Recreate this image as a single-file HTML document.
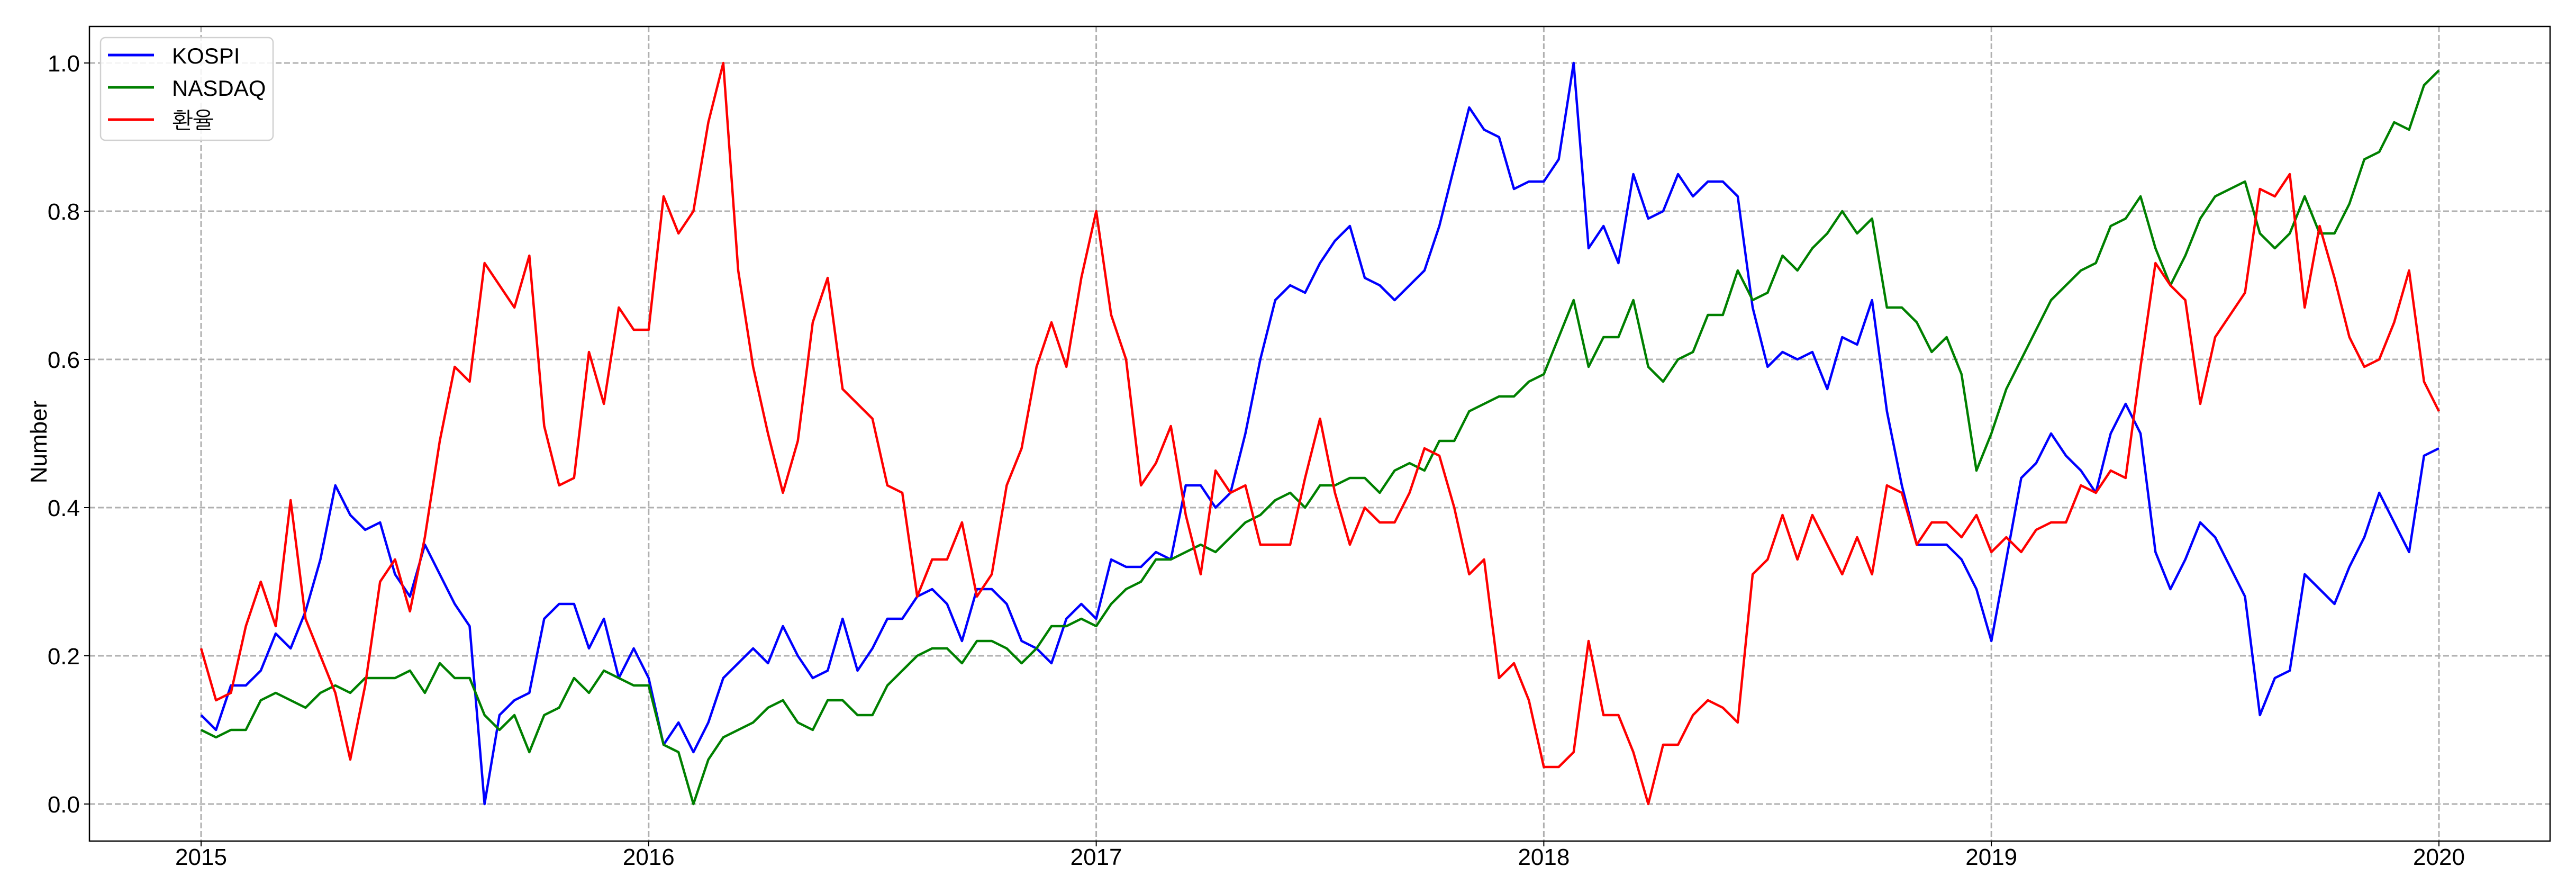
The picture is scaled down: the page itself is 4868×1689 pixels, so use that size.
<!DOCTYPE html>
<html><head><meta charset="utf-8"><style>
html,body{margin:0;padding:0;background:#fff}
svg{display:block}
text{font-family:"Liberation Sans","NanumGothic","Noto Sans CJK KR",sans-serif;fill:#000}
</style></head><body>
<svg id="chart" width="4868" height="1689" viewBox="0 0 4868 1689" xmlns="http://www.w3.org/2000/svg">
<g id="grid"></g>
<g id="series"></g>
<rect x="169" y="50" width="4650" height="1539" fill="none" stroke="#000" stroke-width="2.5"/>
<g id="axes"></g>
<text transform="translate(88,835) rotate(-90)" text-anchor="middle" font-size="44">Number</text>
<g>
<rect x="190" y="71" width="326" height="194" rx="9" fill="#fff" fill-opacity="0.85" stroke="#d0d0d0" stroke-width="2.5"/>
<line x1="204" y1="104" x2="291" y2="104" stroke="#0000ff" stroke-width="5"/>
<text x="325" y="120" font-size="42">KOSPI</text>
<line x1="204" y1="165" x2="291" y2="165" stroke="#008000" stroke-width="5"/>
<text x="325" y="181" font-size="42">NASDAQ</text>
<line x1="204" y1="226" x2="291" y2="226" stroke="#ff0000" stroke-width="5"/>
<text x="325" y="242" font-size="42">환율</text>
</g>
</svg>
<script>
const startYear = 2015;
const stepYears = 1/30;
const xTicks = [2015, 2016, 2017, 2018, 2019, 2020];
const xTickLabels = ["2015", "2016", "2017", "2018", "2019", "2020"];
const yTicks = [0, 0.2, 0.4, 0.6, 0.8, 1.0];
const yTickLabels = ["0.0", "0.2", "0.4", "0.6", "0.8", "1.0"];
const kospi = [0.12,0.10,0.16,0.16,0.18,0.23,0.21,0.26,0.33,0.43,0.39,0.37,0.38,0.31,0.28,0.35,0.31,0.27,0.24,0.00,0.12,0.14,0.15,0.25,0.27,0.27,0.21,0.25,0.17,0.21,0.17,0.08,0.11,0.07,0.11,0.17,0.19,0.21,0.19,
0.24,0.20,0.17,0.18,0.25,0.18,0.21,0.25,0.25,0.28,0.29,0.27,0.22,0.29,0.29,0.27,0.22,0.21,0.19,0.25,0.27,0.25,0.33,0.32,0.32,0.34,0.33,0.43,0.43,0.40,0.42,0.50,0.60,0.68,0.70,0.69,0.73,
0.76,0.78,0.71,0.70,0.68,0.70,0.72,0.78,0.86,0.94,0.91,0.90,0.83,0.84,0.84,0.87,1.00,0.75,0.78,0.73,0.85,0.79,0.80,0.85,0.82,0.84,0.84,0.82,0.67,0.59,0.61,0.60,0.61,0.56,0.63,0.62,0.68,0.53,
0.43,0.35,0.35,0.35,0.33,0.29,0.22,0.33,0.44,0.46,0.50,0.47,0.45,0.42,0.50,0.54,0.50,0.34,0.29,0.33,0.38,0.36,0.32,0.28,0.12,0.17,0.18,0.31,0.29,0.27,0.32,0.36,0.42,0.38,0.34,0.47,0.48];
const nasdaq = [0.10,0.09,0.10,0.10,0.14,0.15,0.14,0.13,0.15,0.16,0.15,0.17,0.17,0.17,0.18,0.15,0.19,0.17,0.17,0.12,0.10,0.12,0.07,0.12,0.13,0.17,0.15,0.18,0.17,0.16,0.16,0.08,0.07,0.00,0.06,0.09,0.10,0.11,0.13,
0.14,0.11,0.10,0.14,0.14,0.12,0.12,0.16,0.18,0.20,0.21,0.21,0.19,0.22,0.22,0.21,0.19,0.21,0.24,0.24,0.25,0.24,0.27,0.29,0.30,0.33,0.33,0.34,0.35,0.34,0.36,0.38,0.39,0.41,0.42,0.40,0.43,
0.43,0.44,0.44,0.42,0.45,0.46,0.45,0.49,0.49,0.53,0.54,0.55,0.55,0.57,0.58,0.63,0.68,0.59,0.63,0.63,0.68,0.59,0.57,0.60,0.61,0.66,0.66,0.72,0.68,0.69,0.74,0.72,0.75,0.77,0.80,0.77,0.79,0.67,
0.67,0.65,0.61,0.63,0.58,0.45,0.50,0.56,0.60,0.64,0.68,0.70,0.72,0.73,0.78,0.79,0.82,0.75,0.70,0.74,0.79,0.82,0.83,0.84,0.77,0.75,0.77,0.82,0.77,0.77,0.81,0.87,0.88,0.92,0.91,0.97,0.99];
const exchangeRate = [0.21,0.14,0.15,0.24,0.30,0.24,0.41,0.25,0.20,0.15,0.06,0.16,0.30,0.33,0.26,0.36,0.49,0.59,0.57,0.73,0.70,0.67,0.74,0.51,0.43,0.44,0.61,0.54,0.67,0.64,0.64,0.82,0.77,0.80,0.92,1.00,0.72,0.59,0.50,
0.42,0.49,0.65,0.71,0.56,0.54,0.52,0.43,0.42,0.28,0.33,0.33,0.38,0.28,0.31,0.43,0.48,0.59,0.65,0.59,0.71,0.80,0.66,0.60,0.43,0.46,0.51,0.39,0.31,0.45,0.42,0.43,0.35,0.35,0.35,0.44,0.52,
0.42,0.35,0.40,0.38,0.38,0.42,0.48,0.47,0.40,0.31,0.33,0.17,0.19,0.14,0.05,0.05,0.07,0.22,0.12,0.12,0.07,0.00,0.08,0.08,0.12,0.14,0.13,0.11,0.31,0.33,0.39,0.33,0.39,0.35,0.31,0.36,0.31,0.43,
0.42,0.35,0.38,0.38,0.36,0.39,0.34,0.36,0.34,0.37,0.38,0.38,0.43,0.42,0.45,0.44,0.59,0.73,0.70,0.68,0.54,0.63,0.66,0.69,0.83,0.82,0.85,0.67,0.78,0.71,0.63,0.59,0.60,0.65,0.72,0.57,0.53];

const NS = "http://www.w3.org/2000/svg";
const X0 = 380, PX_PER_YEAR = 845.8;
const Y0 = 1519, PX_PER_UNIT = 1400;
const L = 169, R = 4819, T = 50, B = 1589;
function xScale(year){ return X0 + (year - 2015) * PX_PER_YEAR; }
function yScale(v){ return Y0 - v * PX_PER_UNIT; }
function mk(tag, attrs, parent){ const e = document.createElementNS(NS, tag); for (const k in attrs) e.setAttribute(k, attrs[k]); parent.appendChild(e); return e; }

const grid = document.getElementById('grid');
const axes = document.getElementById('axes');
xTicks.forEach((t, i) => {
  const x = xScale(t);
  const gl = mk('line', {x1:x, y1:T, x2:x, y2:B, stroke:'#b0b0b0', 'stroke-width':3, 'stroke-dasharray':'11,5'}, grid);
  
  
  const tk = mk('line', {x1:x, y1:B, x2:x, y2:B+10, stroke:'#000', 'stroke-width':2}, axes);
  
  
  const lb = mk('text', {x:x, y:1634, 'text-anchor':'middle', 'font-size':44}, axes);
  lb.textContent = xTickLabels[i];
  
  
});
yTicks.forEach((v, i) => {
  const y = yScale(v);
  const gl = mk('line', {x1:L, y1:y, x2:R, y2:y, stroke:'#b0b0b0', 'stroke-width':3, 'stroke-dasharray':'11,5'}, grid);
  
  
  const tk = mk('line', {x1:L-10, y1:y, x2:L, y2:y, stroke:'#000', 'stroke-width':2}, axes);
  
  
  const lb = mk('text', {x:L-18, y:y+16, 'text-anchor':'end', 'font-size':44}, axes);
  lb.textContent = yTickLabels[i];
  
  
});

const seriesG = document.getElementById('series');
function drawSeries(values, color, name){
  const pts = values.map((v, i) => xScale(startYear + i * stepYears).toFixed(1) + ',' + yScale(v).toFixed(1)).join(' ');
  const pl = mk('polyline', {points:pts, fill:'none', stroke:color, 'stroke-width':4.5, 'stroke-linejoin':'round'}, seriesG);
  
  
}
drawSeries(kospi, '#0000ff', 'kospi-line');
drawSeries(nasdaq, '#008000', 'nasdaq-line');
drawSeries(exchangeRate, '#ff0000', 'exchange-rate-line');
</script>
</body></html>
